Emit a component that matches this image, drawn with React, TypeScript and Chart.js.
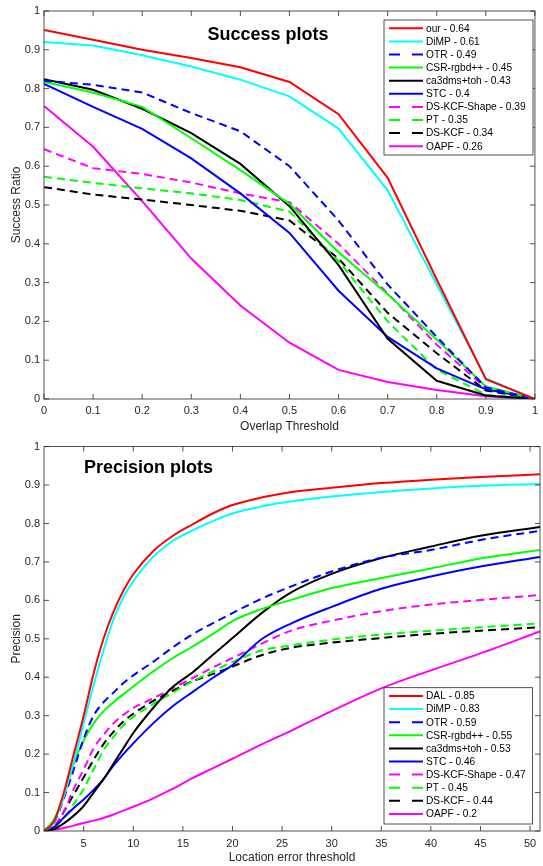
import React, { useEffect, useRef } from "react";
import { Chart, registerables } from "chart.js";
Chart.register(...registerables);

// ---------- Success plot data ----------
const successX = [0, 0.1, 0.2, 0.3, 0.4, 0.5, 0.6, 0.7, 0.8, 0.9, 1];
const successXTicks = [0, 0.1, 0.2, 0.3, 0.4, 0.5, 0.6, 0.7, 0.8, 0.9, 1];
const successYTicks = [0, 0.1, 0.2, 0.3, 0.4, 0.5, 0.6, 0.7, 0.8, 0.9, 1];
const successLabels = [
  "our - 0.64",
  "DiMP - 0.61",
  "OTR - 0.49",
  "CSR-rgbd++ - 0.45",
  "ca3dms+toh - 0.43",
  "STC - 0.4",
  "DS-KCF-Shape - 0.39",
  "PT - 0.35",
  "DS-KCF - 0.34",
  "OAPF - 0.26",
];
const successOur = [0.951, 0.926, 0.9, 0.879, 0.855, 0.817, 0.734, 0.57, 0.308, 0.051, 0.0];
const successDiMP = [0.92, 0.911, 0.886, 0.857, 0.823, 0.78, 0.697, 0.538, 0.295, 0.053, 0.0];
const successOTR = [0.82, 0.81, 0.79, 0.737, 0.69, 0.6, 0.46, 0.295, 0.16, 0.03, 0.0];
const successCSR = [0.817, 0.79, 0.753, 0.672, 0.59, 0.503, 0.378, 0.27, 0.153, 0.032, 0.0];
const successCa3 = [0.824, 0.797, 0.748, 0.685, 0.606, 0.497, 0.345, 0.155, 0.047, 0.009, 0.0];
const successSTC = [0.812, 0.753, 0.696, 0.62, 0.53, 0.428, 0.279, 0.16, 0.079, 0.025, 0.0];
const successShape = [0.644, 0.595, 0.58, 0.558, 0.53, 0.507, 0.4, 0.272, 0.14, 0.028, 0.0];
const successPT = [0.573, 0.557, 0.543, 0.53, 0.513, 0.483, 0.355, 0.2, 0.076, 0.011, 0.0];
const successDSKCF = [0.546, 0.527, 0.514, 0.5, 0.485, 0.46, 0.362, 0.222, 0.118, 0.022, 0.0];
const successOAPF = [0.755, 0.65, 0.51, 0.362, 0.241, 0.145, 0.075, 0.044, 0.023, 0.007, 0.0];

// ---------- Precision plot data ----------
const precisionX = [1, 2, 3, 4, 5, 6, 7, 8, 9, 10, 12, 14, 16, 18, 20, 23, 26, 30, 35, 40, 45, 51];
const precisionXTicks = [5, 10, 15, 20, 25, 30, 35, 40, 45, 50];
const precisionYTicks = [0, 0.1, 0.2, 0.3, 0.4, 0.5, 0.6, 0.7, 0.8, 0.9, 1];
const precisionLabels = [
  "DAL - 0.85",
  "DiMP - 0.83",
  "OTR - 0.59",
  "CSR-rgbd++ - 0.55",
  "ca3dms+toh - 0.53",
  "STC - 0.46",
  "DS-KCF-Shape - 0.47",
  "PT - 0.45",
  "DS-KCF - 0.44",
  "OAPF - 0.2",
];
const precisionDAL = [0, 0.025, 0.1, 0.2, 0.3, 0.41, 0.5, 0.57, 0.625, 0.668, 0.728, 0.768, 0.798, 0.826, 0.848, 0.868, 0.882, 0.893, 0.905, 0.914, 0.921, 0.928];
const precisionDiMP = [0, 0.022, 0.09, 0.18, 0.28, 0.38, 0.47, 0.55, 0.608, 0.65, 0.713, 0.755, 0.782, 0.806, 0.826, 0.845, 0.858, 0.87, 0.882, 0.891, 0.898, 0.903];
const precisionOTR = [0, 0.02, 0.085, 0.16, 0.24, 0.3, 0.335, 0.36, 0.385, 0.405, 0.44, 0.478, 0.512, 0.54, 0.567, 0.605, 0.637, 0.675, 0.711, 0.731, 0.757, 0.781];
const precisionCSR = [0, 0.03, 0.09, 0.175, 0.235, 0.28, 0.312, 0.335, 0.356, 0.376, 0.415, 0.45, 0.48, 0.512, 0.546, 0.578, 0.602, 0.632, 0.658, 0.683, 0.709, 0.731];
const precisionCa3 = [0, 0.005, 0.02, 0.04, 0.065, 0.1, 0.135, 0.175, 0.215, 0.255, 0.32, 0.375, 0.413, 0.458, 0.502, 0.568, 0.622, 0.669, 0.71, 0.74, 0.768, 0.791];
const precisionSTC = [0, 0.01, 0.035, 0.06, 0.082, 0.107, 0.135, 0.17, 0.2, 0.228, 0.28, 0.325, 0.362, 0.398, 0.432, 0.5, 0.541, 0.583, 0.63, 0.662, 0.688, 0.713];
const precisionShape = [0, 0.01, 0.05, 0.11, 0.16, 0.215, 0.25, 0.28, 0.302, 0.32, 0.345, 0.372, 0.398, 0.425, 0.45, 0.488, 0.522, 0.547, 0.572, 0.589, 0.601, 0.614];
const precisionPT = [0, 0.01, 0.035, 0.07, 0.11, 0.16, 0.21, 0.245, 0.275, 0.297, 0.33, 0.36, 0.39, 0.415, 0.44, 0.47, 0.483, 0.498, 0.511, 0.521, 0.53, 0.54];
const precisionDSKCF = [0, 0.01, 0.05, 0.095, 0.14, 0.185, 0.226, 0.258, 0.285, 0.305, 0.338, 0.365, 0.39, 0.408, 0.428, 0.458, 0.477, 0.49, 0.502, 0.513, 0.521, 0.53];
const precisionOAPF = [0, 0.003, 0.008, 0.014, 0.021, 0.027, 0.034, 0.043, 0.053, 0.063, 0.085, 0.11, 0.138, 0.163, 0.188, 0.226, 0.262, 0.312, 0.371, 0.418, 0.462, 0.519];

// ---------- styles ----------
const seriesColors = ["#ff0000", "#00ffff", "#0000ff", "#00ff00", "#000000", "#0000ff", "#ff00ff", "#00ff00", "#000000", "#ff00ff"];
const seriesDashed = [false, false, true, false, false, false, true, true, false, false];
// DS-KCF (index 8) is dashed as well
seriesDashed[8] = true;

const FONT = "'Liberation Sans', Arial, Helvetica, sans-serif";
const AXIS_COLOR = "#262626";

const boxPlugin = {
  id: "matlabBox",
  afterDatasetsDraw(chart: any, _args: any, opts: any) {
    const { ctx, chartArea } = chart;
    const { left, right, top, bottom } = chartArea;
    const xs = chart.scales.x;
    const ys = chart.scales.y;
    ctx.save();
    ctx.strokeStyle = AXIS_COLOR;
    ctx.lineWidth = 0.8;
    ctx.setLineDash([]);
    ctx.strokeRect(left, top, right - left, bottom - top);
    const tl = 5;
    ctx.beginPath();
    for (const t of xs.ticks) {
      const px = xs.getPixelForValue(t.value);
      ctx.moveTo(px, bottom);
      ctx.lineTo(px, bottom - tl);
      ctx.moveTo(px, top);
      ctx.lineTo(px, top + tl);
    }
    for (const t of ys.ticks) {
      const py = ys.getPixelForValue(t.value);
      ctx.moveTo(left, py);
      ctx.lineTo(left + tl, py);
      ctx.moveTo(right, py);
      ctx.lineTo(right - tl, py);
    }
    ctx.stroke();

    // plot title inside axes
    if (opts && opts.title) {
      ctx.fillStyle = "#000";
      ctx.font = `bold 18px ${FONT}`;
      ctx.textAlign = opts.titleAlign || "center";
      ctx.textBaseline = "middle";
      ctx.fillText(opts.title, opts.titleX, opts.titleY);
    }

    // legend box
    if (opts && opts.legend) {
      const L = opts.legend;
      ctx.fillStyle = "#ffffff";
      ctx.fillRect(L.x, L.y, L.w, L.h);
      ctx.strokeStyle = AXIS_COLOR;
      ctx.lineWidth = 0.8;
      ctx.strokeRect(L.x, L.y, L.w, L.h);
      chart.data.datasets.forEach((ds: any, i: number) => {
        const ry = L.y + L.first + i * L.step;
        ctx.beginPath();
        ctx.strokeStyle = ds.borderColor;
        ctx.lineWidth = 2;
        ctx.setLineDash(ds.borderDash && ds.borderDash.length ? [11, 12] : []);
        ctx.moveTo(L.x + 5, ry);
        ctx.lineTo(L.x + 39, ry);
        ctx.stroke();
        ctx.setLineDash([]);
        ctx.fillStyle = "#000";
        ctx.font = `10.2px ${FONT}`;
        ctx.textAlign = "left";
        ctx.textBaseline = "middle";
        ctx.fillText(ds.label, L.x + 42, ry + 0.5);
      });
    }
    ctx.restore();
  },
};

function makeDatasets(labels: string[], xs: number[], series: number[][], smooth: boolean) {
  return series.map((vals, i) => ({
    label: labels[i],
    data: vals.map((v, j) => ({ x: xs[j], y: v })),
    borderColor: seriesColors[i],
    backgroundColor: seriesColors[i],
    borderWidth: 2,
    borderDash: seriesDashed[i] ? [8, 5] : [],
    pointRadius: 0,
    fill: false,
    tension: 0,
    cubicInterpolationMode: smooth ? "monotone" : "default",
  }));
}

function axisCfg(min: number, max: number, ticks: number[], title: string, fitFn: (s: any) => void, tickPad: number, titlePad: any) {
  return {
    type: "linear",
    min,
    max,
    afterBuildTicks: (s: any) => {
      s.ticks = ticks.map((v) => ({ value: v }));
    },
    afterFit: fitFn,
    grid: { display: false, drawTicks: false },
    border: { display: false },
    ticks: {
      padding: tickPad,
      color: AXIS_COLOR,
      font: { family: FONT, size: 11 },
      maxRotation: 0,
      autoSkip: false,
      callback: (v: any) => String(v),
    },
    title: {
      display: true,
      text: title,
      color: AXIS_COLOR,
      font: { family: FONT, size: 12 },
      padding: titlePad,
    },
  };
}

export default function App() {
  const topRef = useRef<HTMLCanvasElement>(null);
  const botRef = useRef<HTMLCanvasElement>(null);

  useEffect(() => {
    Chart.defaults.font.family = FONT;
    const top = new Chart(topRef.current as HTMLCanvasElement, {
      type: "line",
      data: {
        datasets: makeDatasets(
          successLabels,
          successX,
          [successOur, successDiMP, successOTR, successCSR, successCa3, successSTC, successShape, successPT, successDSKCF, successOAPF],
          false
        ) as any,
      },
      options: {
        responsive: false,
        animation: false,
        layout: { padding: { top: 11, right: 3, left: 0, bottom: 0 } },
        plugins: {
          legend: { display: false },
          tooltip: { enabled: false },
          matlabBox: {
            title: "Success plots",
            titleX: 268,
            titleY: 35,
            legend: { x: 384, y: 20, w: 149, h: 135, first: 8.3, step: 13.1 },
          },
        } as any,
        scales: {
          x: axisCfg(0, 1, successXTicks, "Overlap Threshold", (s: any) => { s.height = 37; }, 5, { top: 0, bottom: 2 }),
          y: axisCfg(0, 1, successYTicks, "Success Ratio", (s: any) => { s.width = 44; }, 4, { top: 9, bottom: 0 }),
        } as any,
      },
      plugins: [boxPlugin],
    });

    const bot = new Chart(botRef.current as HTMLCanvasElement, {
      type: "line",
      data: {
        datasets: makeDatasets(
          precisionLabels,
          precisionX,
          [precisionDAL, precisionDiMP, precisionOTR, precisionCSR, precisionCa3, precisionSTC, precisionShape, precisionPT, precisionDSKCF, precisionOAPF],
          true
        ) as any,
      },
      options: {
        responsive: false,
        animation: false,
        layout: { padding: { top: 7, right: 3, left: 0, bottom: 0 } },
        plugins: {
          legend: { display: false },
          tooltip: { enabled: false },
          matlabBox: {
            title: "Precision plots",
            titleX: 84,
            titleY: 32,
            titleAlign: "left",
            legend: { x: 384, y: 251.7, w: 148.5, h: 136.3, first: 8.3, step: 13.1 },
          },
        } as any,
        scales: {
          x: axisCfg(1, 51, precisionXTicks, "Location error threshold", (s: any) => { s.height = 35; }, 6, { top: 0, bottom: 1 }),
          y: axisCfg(0, 1, precisionYTicks, "Precision", (s: any) => { s.width = 44; }, 4, { top: 9, bottom: 0 }),
        } as any,
      },
      plugins: [boxPlugin],
    });

    return () => {
      top.destroy();
      bot.destroy();
    };
  }, []);

  return (
    <div style={{ position: "absolute", left: 0, top: 0, width: 543, height: 866, background: "#fff" }}>
      <canvas ref={topRef} width={543} height={436} style={{ display: "block", position: "absolute", left: 0, top: 0 }} />
      <canvas ref={botRef} width={543} height={430} style={{ display: "block", position: "absolute", left: 0, top: 436 }} />
    </div>
  );
}
